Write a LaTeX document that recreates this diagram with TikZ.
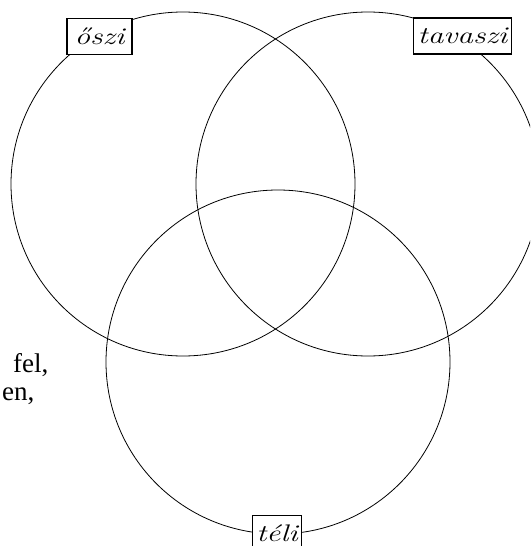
\documentclass[tikz,border=0pt]{standalone}
\usepackage{fontspec}
\usepackage{graphicx}
\newfontfamily\restfont{Liberation Serif}

\begin{document}
\begin{tikzpicture}[
  x=1pt, y=-1pt,
  season/.style={draw, circle, line width=0.8pt, minimum size=344pt, inner sep=0pt},
  lbl/.style={draw, fill=white, line width=1.2pt, inner xsep=4pt, inner ysep=0pt, minimum height=36pt, font=\fontsize{24}{24}\selectfont\itshape},
  frag/.style={anchor=base west, inner sep=0pt, font=\restfont\fontsize{27}{30}\selectfont},
]
  \useasboundingbox (0,0) rectangle (530,546);
  \clip (0,0) rectangle (530,546);

  % Circles
  \node[season] (oszi) at (183,184) {};
  \node[season] (tavaszi) at (368,184) {};
  \node[season] (teli) at (278,362) {};

  % Labels on the circles
  \node[lbl, minimum width=65pt] (osziL) at (99.5,36.5) {\scalebox{1.3}[1]{őszi}};
  \node[lbl] (tavasziL) at (462.5,36) {\scalebox{1.3}[1]{tavaszi}};
  \node[lbl, anchor=north] (teliL) at (277,515) {\scalebox{1.3}[1]{téli}};

  % Text left over on the side
  \node[frag] (fel) at (13,372) {fel,};
  \node[frag] (en) at (2,400) {en,};
\end{tikzpicture}
\end{document}
